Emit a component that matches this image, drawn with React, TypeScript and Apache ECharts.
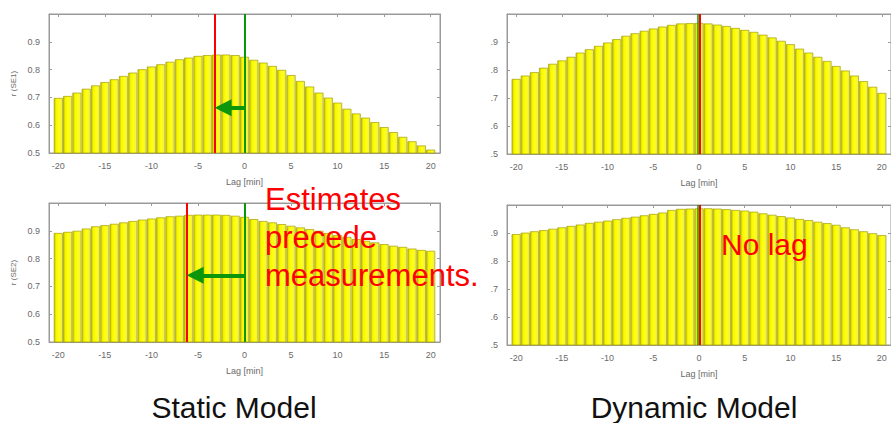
import React, { useEffect, useRef } from "react";
import * as echarts from "echarts";

const lags = [-20, -19, -18, -17, -16, -15, -14, -13, -12, -11, -10, -9, -8, -7, -6, -5, -4, -3, -2, -1, 0, 1, 2, 3, 4, 5, 6, 7, 8, 9, 10, 11, 12, 13, 14, 15, 16, 17, 18, 19, 20];
const xTicks = [-20, -15, -10, -5, 0, 5, 10, 15, 20];

const staticTop = [0.698, 0.705, 0.717, 0.731, 0.743, 0.755, 0.765, 0.777, 0.789, 0.801, 0.811, 0.819, 0.828, 0.837, 0.843, 0.849, 0.852, 0.854, 0.854, 0.852, 0.846, 0.835, 0.825, 0.813, 0.799, 0.78, 0.759, 0.739, 0.717, 0.699, 0.681, 0.659, 0.642, 0.627, 0.611, 0.593, 0.575, 0.558, 0.542, 0.527, 0.512];
const dynamicTop = [0.768, 0.78, 0.792, 0.808, 0.822, 0.834, 0.847, 0.862, 0.874, 0.886, 0.898, 0.91, 0.922, 0.931, 0.94, 0.948, 0.955, 0.961, 0.966, 0.967, 0.968, 0.966, 0.962, 0.957, 0.95, 0.943, 0.936, 0.926, 0.916, 0.904, 0.892, 0.876, 0.862, 0.847, 0.832, 0.814, 0.798, 0.78, 0.76, 0.74, 0.718];
const staticBottom = [0.892, 0.896, 0.9, 0.908, 0.916, 0.92, 0.925, 0.93, 0.935, 0.94, 0.944, 0.948, 0.952, 0.954, 0.957, 0.958, 0.958, 0.958, 0.957, 0.954, 0.95, 0.942, 0.935, 0.93, 0.924, 0.918, 0.912, 0.906, 0.9, 0.892, 0.884, 0.878, 0.87, 0.864, 0.858, 0.852, 0.846, 0.842, 0.836, 0.831, 0.828];
const dynamicBottom = [0.896, 0.901, 0.906, 0.91, 0.915, 0.92, 0.925, 0.93, 0.936, 0.94, 0.944, 0.949, 0.954, 0.958, 0.963, 0.968, 0.973, 0.982, 0.986, 0.987, 0.988, 0.988, 0.987, 0.985, 0.982, 0.98, 0.976, 0.97, 0.965, 0.96, 0.955, 0.95, 0.946, 0.94, 0.935, 0.929, 0.92, 0.913, 0.906, 0.899, 0.892];

// estimated lag (red) vs measurement (green, 0) and arrow heights
const redLags = [-3.2, 0.06, -6.2, 0.06];
const greenLags = [0, -0.1, 0, -0.1];
const arrowY = [0.663, null, 0.74, null];

const panelValues = [staticTop, dynamicTop, staticBottom, dynamicBottom];
const yNames = ["r (SE1)", "", "r (SE2)", ""];

const grids = [
  { left: 49, top: 14, width: 391, height: 139 },
  { left: 507, top: 14, width: 391, height: 140 },
  { left: 49, top: 203, width: 391, height: 139 },
  { left: 507, top: 205, width: 391, height: 140 },
];

const GREEN = "#0c960c";
const RED = "#ff0000";
const AXIS = "#9a9a9a";
const LABEL = "#6a6a6a";
const FONT = "'Liberation Sans', Arial, Helvetica, sans-serif";

export default function App() {
  const ref = useRef<HTMLDivElement>(null);
  useEffect(() => {
    if (!ref.current) return;
    document.body.style.margin = "0";
    const chart = echarts.init(ref.current, undefined, { renderer: "svg" });

    const xAxis: any[] = [];
    const yAxis: any[] = [];
    const series: any[] = [];
    const barColor = new echarts.graphic.LinearGradient(0, 0, 1, 0, [
      { offset: 0, color: "#c4bf00" },
      { offset: 0.25, color: "#f7f700" },
      { offset: 0.6, color: "#ffff14" },
      { offset: 1, color: "#ecec5a" },
    ]);

    grids.forEach((g, i) => {
      const isLeft = i % 2 === 0;
      xAxis.push({
        type: "value",
        gridIndex: i,
        min: -21,
        max: 21,
        position: "bottom",
        name: "Lag [min]",
        nameLocation: "middle",
        nameGap: 24,
        nameTextStyle: { fontSize: 9, color: LABEL, fontFamily: FONT },
        axisLine: { show: true, onZero: false, lineStyle: { color: AXIS } },
        axisTick: { show: true, inside: true, length: 3, customValues: xTicks, lineStyle: { color: AXIS } },
        axisLabel: { customValues: xTicks, fontSize: 9, color: LABEL, margin: 8, fontFamily: FONT },
        splitLine: { show: false },
      });
      xAxis.push({
        type: "value",
        gridIndex: i,
        min: -21,
        max: 21,
        position: "top",
        axisLine: { show: true, onZero: false, lineStyle: { color: AXIS } },
        axisTick: { show: true, inside: true, length: 3, customValues: xTicks, lineStyle: { color: AXIS } },
        axisLabel: { show: false },
        splitLine: { show: false },
      });
      yAxis.push({
        type: "value",
        gridIndex: i,
        min: 0.5,
        max: 1.0,
        interval: 0.1,
        position: "left",
        name: yNames[i],
        nameLocation: "middle",
        nameGap: 32,
        nameTextStyle: { fontSize: 8, color: LABEL, fontFamily: FONT },
        axisLine: { show: true, onZero: false, lineStyle: { color: AXIS } },
        axisTick: { show: true, inside: true, length: 3, lineStyle: { color: AXIS } },
        axisLabel: {
          fontSize: 9,
          color: LABEL,
          margin: 9,
          fontFamily: FONT,
          formatter: (v: number) => {
            if (v > 0.95) return "";
            const s = v.toFixed(1);
            return isLeft ? s : s.slice(1);
          },
        },
        splitLine: { show: false },
      });
      yAxis.push({
        type: "value",
        gridIndex: i,
        min: 0.5,
        max: 1.0,
        interval: 0.1,
        position: "right",
        axisLine: { show: true, onZero: false, lineStyle: { color: AXIS } },
        axisTick: { show: true, inside: true, length: 3, lineStyle: { color: AXIS } },
        axisLabel: { show: false },
        splitLine: { show: false },
      });

      const markData: any[] = [
        { xAxis: greenLags[i], lineStyle: { color: GREEN, width: isLeft ? 2 : 1.5, type: "solid" } },
        { xAxis: redLags[i], lineStyle: { color: RED, width: 2, type: "solid" } },
      ];
      const ay = arrowY[i];
      if (ay !== null) {
        // tip of the triangle touches the red line (half head length ≈ 0.9 units)
        markData.push([
          { coord: [greenLags[i], ay], symbol: "none", lineStyle: { color: GREEN, width: 4, type: "solid" } },
          { coord: [redLags[i] + 0.9, ay], symbol: "triangle", symbolSize: [17, 17] },
        ]);
      }

      series.push({
        type: "bar",
        xAxisIndex: i * 2,
        yAxisIndex: i * 2,
        data: lags.map((l, k) => [l, panelValues[i][k]]),
        barWidth: 9,
        itemStyle: { color: barColor, borderColor: "#a39f00", borderWidth: 0.7 },
        markLine: {
          silent: true,
          symbol: ["none", "none"],
          label: { show: false },
          emphasis: { disabled: true },
          data: markData,
          z: 10,
        },
      });
    });

    const textBase = { fill: RED, fontSize: 31, fontFamily: FONT, verticalAlign: "middle" };
    chart.setOption({
      animation: false,
      backgroundColor: "#ffffff",
      grid: grids.map((g) => ({ ...g, show: true, borderColor: AXIS, borderWidth: 1, backgroundColor: "#ffffff" })),
      xAxis,
      yAxis,
      series,
      graphic: [
        { type: "text", x: 265, y: 199, z: 100, style: { ...textBase, text: "Estimates", align: "left" } },
        { type: "text", x: 265, y: 237, z: 100, style: { ...textBase, text: "precede", align: "left" } },
        { type: "text", x: 265, y: 275, z: 100, style: { ...textBase, text: "measurements.", align: "left" } },
        { type: "text", x: 721, y: 244, z: 100, style: { ...textBase, fontSize: 30, text: "No lag", align: "left" } },
        { type: "text", x: 234, y: 407, z: 100, style: { fill: "#111", fontSize: 30, fontFamily: FONT, verticalAlign: "middle", text: "Static Model", align: "center" } },
        { type: "text", x: 694, y: 407, z: 100, style: { fill: "#111", fontSize: 30, fontFamily: FONT, verticalAlign: "middle", text: "Dynamic Model", align: "center" } },
      ],
    });
    return () => chart.dispose();
  }, []);
  return <div ref={ref} style={{ position: "absolute", left: 0, top: 0, width: 891, height: 423 }} />;
}
